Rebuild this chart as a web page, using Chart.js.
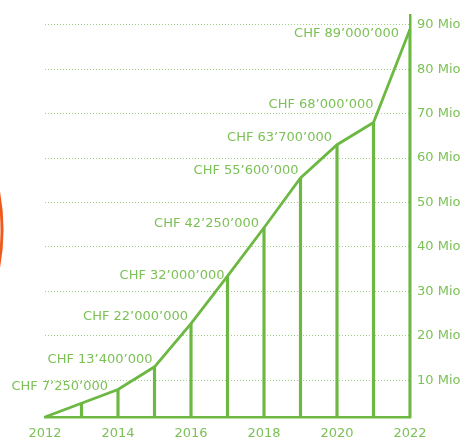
<!DOCTYPE html>
<html>
<head>
<meta charset="utf-8">
<script src="https://cdn.jsdelivr.net/npm/chart.js@4.4.1/dist/chart.umd.min.js"></script>
<style>
  html, body { margin: 0; padding: 0; background: #fff; }
  #wrap { width: 462px; height: 442px; }
</style>
</head>
<body>
<div id="wrap"><canvas id="chart" width="462" height="442"></canvas></div>
<script>
// Years on the x axis
const years = ["2012", "2013", "2014", "2015", "2016", "2017", "2018", "2019", "2020", "2021", "2022"];
// Plotted amounts in Mio CHF
const amounts = [1.7, 4.8, 7.9, 13.0, 22.7, 33.4, 44.3, 55.5, 63.0, 68.0, 89.0];
// Text shown next to each point
const amountLabels = ["", "", "CHF 7’250’000", "CHF 13’400’000", "CHF 22’000’000", "CHF 32’000’000",
  "CHF 42’250’000", "CHF 55’600’000", "CHF 63’700’000", "CHF 68’000’000", "CHF 89’000’000"];
// Right axis ticks (Mio)
const yTicks = [10, 20, 30, 40, 50, 60, 70, 80, 90];

const GREEN = "#6cb842";
const TEXT_GREEN = "#7cc156";
const GRID_GREEN = "#9fd27e";

Chart.defaults.font.family = "'DejaVu Sans', sans-serif";
Chart.defaults.font.size = 13;

// where each label sits relative to its point (right edge, vertical middle)
const labelOffsets = [[0, 0], [0, 0], [-10, -3], [-2, -7], [-3, -7], [-3, -1], [-5, -4], [-2, -7], [-5, -7], [0, -18], [-11, 4]];

const pointLabels = {
  id: "pointLabels",
  afterDatasetsDraw(chart) {
    const ctx = chart.ctx;
    const meta = chart.getDatasetMeta(1);
    ctx.save();
    ctx.font = "13px 'DejaVu Sans'";
    ctx.fillStyle = TEXT_GREEN;
    ctx.textAlign = "right";
    ctx.textBaseline = "middle";
    meta.data.forEach((pt, i) => {
      if (!amountLabels[i]) return;
      const off = labelOffsets[i];
      ctx.fillText(amountLabels[i], pt.x + off[0], pt.y + off[1]);
    });
    ctx.restore();
  }
};

// orange arc peeking in at the left edge
const edgeArc = {
  id: "edgeArc",
  afterDraw(chart) {
    const ctx = chart.ctx;
    ctx.save();
    ctx.strokeStyle = "#ee5a1c";
    ctx.lineWidth = 3;
    ctx.beginPath();
    ctx.arc(-216.7, 229.7, 218.5, -0.3, 0.3);
    ctx.stroke();
    ctx.restore();
  }
};

new Chart(document.getElementById("chart"), {
  type: "line",
  data: {
    labels: years,
    datasets: [
      {
        type: "bar",
        data: amounts,
        backgroundColor: GREEN,
        barThickness: 2.5,
        order: 2
      },
      {
        type: "line",
        data: amounts,
        borderColor: GREEN,
        borderWidth: 2.8,
        pointRadius: 0,
        tension: 0,
        fill: false,
        order: 1
      }
    ]
  },
  options: {
    responsive: false,
    animation: false,
    layout: { padding: { left: 45, top: 15, right: 0, bottom: 0 } },
    plugins: {
      legend: { display: false },
      tooltip: { enabled: false }
    },
    scales: {
      x: {
        type: "category",
        offset: false,
        grid: { display: false, drawTicks: false },
        border: { display: true, color: GREEN, width: 2.5 },
        ticks: {
          color: TEXT_GREEN,
          autoSkip: false,
          maxRotation: 0,
          padding: 9,
          callback: (v, i) => (i % 2 === 0 ? years[i] : "")
        },
        afterFit: (scale) => {
          scale.height = 25;
          scale.paddingLeft = 0;
          scale.paddingRight = 0;
        }
      },
      y: {
        position: "right",
        min: 1.7,
        max: 92.2,
        grid: { color: GRID_GREEN, lineWidth: 1, drawTicks: false },
        border: { display: true, color: GREEN, width: 2.5, dash: [1, 2] },
        ticks: {
          color: TEXT_GREEN,
          padding: 7,
          callback: (v) => v + " Mio"
        },
        afterBuildTicks: (scale) => {
          scale.ticks = yTicks.map((v) => ({ value: v }));
        },
        afterFit: (scale) => {
          scale.width = 52;
          scale.paddingTop = 0;
          scale.paddingBottom = 0;
        }
      }
    }
  },
  plugins: [pointLabels, edgeArc]
});
</script>
</body>
</html>
